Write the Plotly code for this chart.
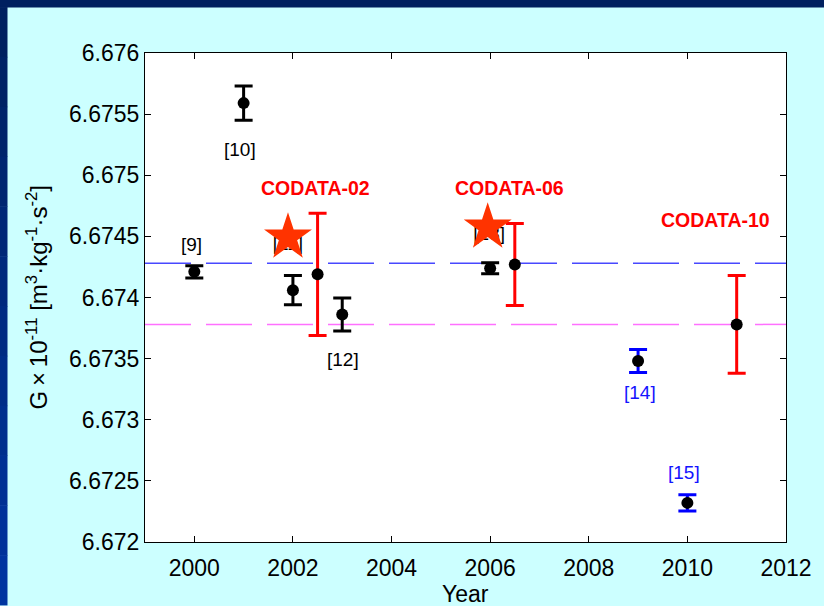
import plotly.graph_objects as go

# ---------------- data ----------------
meas_years = [2000, 2001, 2002, 2003, 2006]
meas_vals = [6.67421, 6.67559, 6.67406, 6.67386, 6.67424]
meas_errs = [0.00005, 0.00014, 0.00012, 0.000135, 0.000045]

blue_years = [2009, 2010]
blue_vals = [6.67348, 6.67232]
blue_errs = [0.000094, 0.000067]

codata_years = [2002.5, 2006.5, 2011]
codata_vals = [6.67419, 6.67427, 6.67378]
codata_errs = [0.0005, 0.000335, 0.0004]

star_years = [2001.9, 2005.95]
star_vals = [6.674492, 6.674574]

ref_blue = 6.67428
ref_magenta = 6.67378

black_labels = ["[9]", "[10]", "[12]"]
black_label_x = [1999.95, 2000.93, 2003.01]
black_label_y = [6.674436, 6.675214, 6.673494]

hidden_labels = ["[11]", "[13]"]
hidden_label_x = [2001.9, 2005.98]
hidden_label_y = [6.674428, 6.674510]

blue_labels = ["[14]", "[15]"]
blue_label_x = [2009.04, 2009.93]
blue_label_y = [6.673222, 6.672567]

codata_labels = ["CODATA-02", "CODATA-06", "CODATA-10"]
codata_label_x = [2002.45, 2006.40, 2010.56]
codata_label_y = [6.674895, 6.674892, 6.674635]

x_range = [1999, 2012]
y_range = [6.672, 6.676]
x_ticks = [2000, 2002, 2004, 2006, 2008, 2010, 2012]
y_ticks = [6.672, 6.6725, 6.673, 6.6735, 6.674, 6.6745, 6.675, 6.6755, 6.676]
y_ticktext = ["6.672", "6.6725", "6.673", "6.6735", "6.674", "6.6745", "6.675", "6.6755", "6.676"]

# ---------------- figure ----------------
FONT = "Liberation Sans, Arial, sans-serif"
fig = go.Figure()

# dashed reference lines
fig.add_trace(go.Scatter(x=x_range, y=[ref_blue, ref_blue], mode="lines",
                         line=dict(color="#4848ff", width=1.5, dash="46px,15px"),
                         hoverinfo="skip"))
fig.add_trace(go.Scatter(x=x_range, y=[ref_magenta, ref_magenta], mode="lines",
                         line=dict(color="#ff70ff", width=1.5, dash="46px,15px"),
                         hoverinfo="skip"))

# labels partly hidden under the stars
fig.add_trace(go.Scatter(x=hidden_label_x, y=hidden_label_y, mode="text",
                         text=hidden_labels,
                         textfont=dict(family=FONT, size=19, color="black")))

# measurements (black)
fig.add_trace(go.Scatter(x=meas_years, y=meas_vals, mode="markers",
                         marker=dict(color="black", size=12),
                         error_y=dict(type="data", array=meas_errs, color="black",
                                      thickness=3, width=9)))
# measurements (blue bars)
fig.add_trace(go.Scatter(x=blue_years, y=blue_vals, mode="markers",
                         marker=dict(color="black", size=12),
                         error_y=dict(type="data", array=blue_errs, color="#0000ff",
                                      thickness=3, width=9)))
# CODATA values
fig.add_trace(go.Scatter(x=codata_years, y=codata_vals, mode="markers",
                         marker=dict(color="black", size=12),
                         error_y=dict(type="data", array=codata_errs, color="#ff0000",
                                      thickness=3, width=9)))
# stars
fig.add_trace(go.Scatter(x=star_years, y=star_vals, mode="markers",
                         marker=dict(symbol="star", size=36, color="#ff3300",
                                     line=dict(width=0))))

# plot area geometry (pixels)
W, H = 824, 606
L, R, T, B = 145, 38, 53, 63.5
pw, ph = W - L - R, H - T - B


def px_x(p):
    return (p - L) / pw


def px_y(p):
    return (H - B - p) / ph


annotations = []
for t, x, y in zip(black_labels, black_label_x, black_label_y):
    annotations.append(dict(text=t, x=x, y=y, xref="x", yref="y", showarrow=False,
                            font=dict(family=FONT, size=19, color="black")))
for t, x, y in zip(blue_labels, blue_label_x, blue_label_y):
    annotations.append(dict(text=t, x=x, y=y, xref="x", yref="y", showarrow=False,
                            font=dict(family=FONT, size=19, color="#1414ff")))
for t, x, y in zip(codata_labels, codata_label_x, codata_label_y):
    annotations.append(dict(text="<b>%s</b>" % t, x=x, y=y, xref="x", yref="y",
                            showarrow=False,
                            font=dict(family=FONT, size=19.5, color="#ff0000")))
annotations += [
    dict(text="G\u2009\u00d7\u200910<sup>-11</sup> [m<sup>3</sup>\u00b7kg<sup>-1</sup>\u00b7s<sup>-2</sup>]",
         xref="paper", yref="paper", x=px_x(36), y=0.5, textangle=-90,
         showarrow=False, xanchor="center", yanchor="middle",
         font=dict(family=FONT, size=24, color="black")),
    dict(text="Year", xref="paper", yref="paper", x=0.5, y=px_y(595),
         showarrow=False, xanchor="center", yanchor="middle",
         font=dict(family=FONT, size=23, color="black")),
]

shapes = [
    dict(type="rect", xref="paper", yref="paper",
         x0=px_x(0), x1=px_x(W), y0=px_y(7.5), y1=px_y(0),
         fillcolor="#00205f", line=dict(width=0), layer="below"),
]
# left gradient strip
n = 12
c0 = (0x00, 0x20, 0x5f)
c1 = (0x00, 0x34, 0xa0)
for i in range(n):
    t = i / (n - 1)
    col = "rgb(%d,%d,%d)" % tuple(round(a + (b - a) * t) for a, b in zip(c0, c1))
    y_top = 7.5 + (H - 7.5) * i / n
    y_bot = 7.5 + (H - 7.5) * (i + 1) / n
    shapes.append(dict(type="rect", xref="paper", yref="paper",
                       x0=px_x(0), x1=px_x(7.5), y0=px_y(y_bot), y1=px_y(y_top - 0.5),
                       fillcolor=col, line=dict(width=0), layer="below"))

fig.update_layout(
    width=W, height=H,
    margin=dict(l=L, r=R, t=T, b=B, pad=0),
    paper_bgcolor="#ccffff",
    plot_bgcolor="white",
    showlegend=False,
    font=dict(family=FONT, size=23, color="black"),
    shapes=shapes,
    annotations=annotations,
)

fig.update_xaxes(range=x_range, tickvals=x_ticks, ticks="inside", ticklen=6,
                 tickcolor="black", showline=True, linecolor="black", linewidth=1,
                 mirror="ticks", showgrid=False, zeroline=False,
                 ticklabelstandoff=5,
                 tickfont=dict(family=FONT, size=23, color="black"))
fig.update_yaxes(range=y_range, tickvals=y_ticks, ticktext=y_ticktext,
                 ticks="inside", ticklen=6, tickcolor="black",
                 showline=True, linecolor="black", linewidth=1, mirror="ticks",
                 showgrid=False, zeroline=False,
                 tickfont=dict(family=FONT, size=23, color="black"))

fig.write_html("out.html")
